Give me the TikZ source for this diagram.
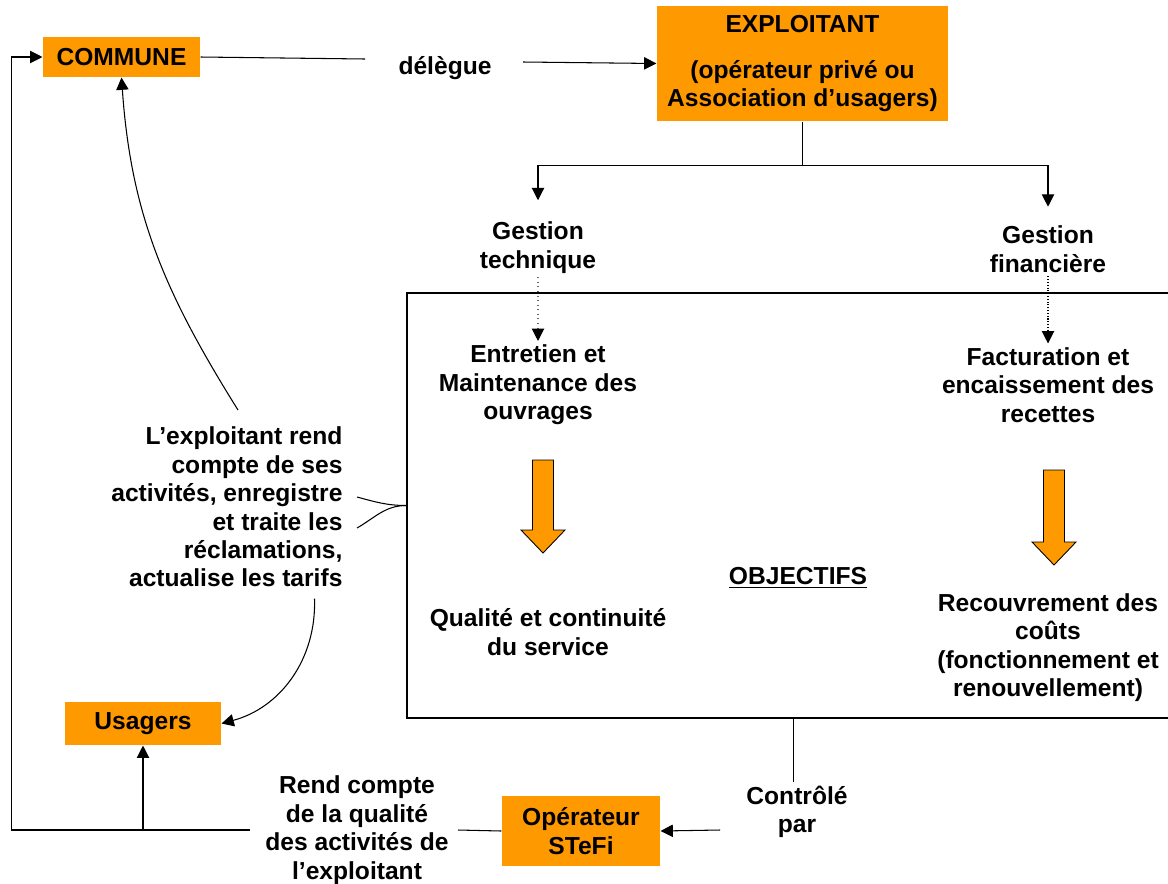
\documentclass[tikz,border=0pt]{standalone}
\usepackage{fontspec}
\setmainfont{Liberation Sans}
\usetikzlibrary{arrows.meta}
\definecolor{boxorange}{RGB}{255,153,0}

\begin{document}
\begin{tikzpicture}[
  txt/.style={font=\fontsize{14}{16.2}\selectfont\bfseries,align=center,inner sep=2pt},
  box/.style={txt,fill=boxorange,inner sep=0pt},
  arr/.style={-{Triangle[length=7pt,width=7pt]}},
  line width=0.6pt]
\useasboundingbox (0.000,0.000) rectangle (23.360,-17.660);
\node[box,minimum width=3.140cm,minimum height=0.800cm] (commune) at (2.430,-1.140) {COMMUNE};
\node[box,minimum width=5.820cm,minimum height=2.300cm] (exploitant) at (16.050,-1.270) {EXPLOITANT\\[10pt](opérateur privé ou\\Association d’usagers)};
\node[txt] (delegue) at (8.900,-1.360) {délègue};
\coordinate (dl) at (7.300,-1.180);
\coordinate (dr) at (10.460,-1.240);
\draw (commune.east) -- (dl);
\draw[arr] (dr) -- (exploitant.west);
\node[txt] (gtech) at (10.760,-4.950) {Gestion\\technique};
\node[txt] (gfin) at (20.960,-4.980) {Gestion\\financière};
\draw[arr] (exploitant.south) -- ++(0,-0.880) -| ([yshift=3.5mm]gtech.north);
\draw[arr] (exploitant.south) -- ++(0,-0.880) -| ([yshift=3.0mm]gfin.north);
\node[draw,minimum width=15.460cm,minimum height=8.500cm,inner sep=0pt] (frame) at (15.870,-10.110) {};
\node[txt] (entretien) at (10.760,-7.700) {Entretien et\\Maintenance des\\ouvrages};
\node[txt] (facturation) at (20.960,-7.700) {Facturation et\\encaissement des\\recettes};
\draw[-{Triangle[length=7pt,width=7pt,black]},dotted,black!60] (gtech.south) -- (entretien.north);
\draw[arr,densely dotted] (gfin.south) -- (facturation.north);
\filldraw[fill=boxorange,draw=black,line width=0.5pt] (10.650,-9.200) -- (11.070,-9.200) -- (11.070,-10.600) -- (11.300,-10.600) -- (10.860,-11.060) -- (10.420,-10.600) -- (10.650,-10.600) -- cycle;
\filldraw[fill=boxorange,draw=black,line width=0.5pt] (20.870,-9.400) -- (21.290,-9.400) -- (21.290,-10.840) -- (21.520,-10.840) -- (21.080,-11.300) -- (20.640,-10.840) -- (20.870,-10.840) -- cycle;
\node[txt] (objectifs) at (15.960,-11.560) {\underline{OBJECTIFS}};
\node[txt] (qualite) at (10.960,-12.640) {Qualité et continuité\\du service};
\node[txt] (recouvrement) at (20.960,-12.950) {Recouvrement des\\coûts\\(fonctionnement et\\renouvellement)};
\node[txt,align=right,anchor=east,inner sep=0pt] (rendcompte) at (6.860,-10.140) {L’exploitant rend\\compte de ses\\activités, enregistre\\et traite les\\réclamations,\\actualise les tarifs};
\coordinate (b1) at (7.140,-9.940);
\coordinate (b2) at (7.140,-10.560);
\draw (frame.west) to[out=180,in=-15] (b1);
\draw (frame.west) to[out=180,in=30] (b2);
\node[box,minimum width=3.120cm,minimum height=0.860cm] (usagers) at (2.860,-14.470) {Usagers};
\coordinate (c1) at (4.760,-8.200);
\draw[arr] (c1) to[out=122,in=-86] (commune.south);
\coordinate (c2) at (6.290,-11.970);
\draw[arr] (c2) to[out=-88,in=15] (usagers.east);
\node[box,minimum width=3.160cm,minimum height=1.400cm] (operateur) at (11.620,-16.620) {Opérateur\\STeFi};
\node[txt] (rendqual) at (7.140,-16.600) {Rend compte\\de la qualité\\des activités de\\l’exploitant};
\node[txt] (controle) at (15.940,-16.240) {Contrôlé\\par};
\coordinate (r1) at (9.160,-16.600);
\coordinate (r2) at (5.000,-16.600);
\coordinate (c3) at (14.400,-16.600);
\draw (operateur.west) -- (r1);
\draw[arr] (r2) -| ([xshift=-0.620cm]commune.west) -- (commune.west);
\draw[arr] (usagers.south |- r2) -- (usagers.south);
\draw[arr] (c3) -- (operateur.east);
\draw (frame.south) -- (frame.south |- controle.north);
\end{tikzpicture}
\end{document}
